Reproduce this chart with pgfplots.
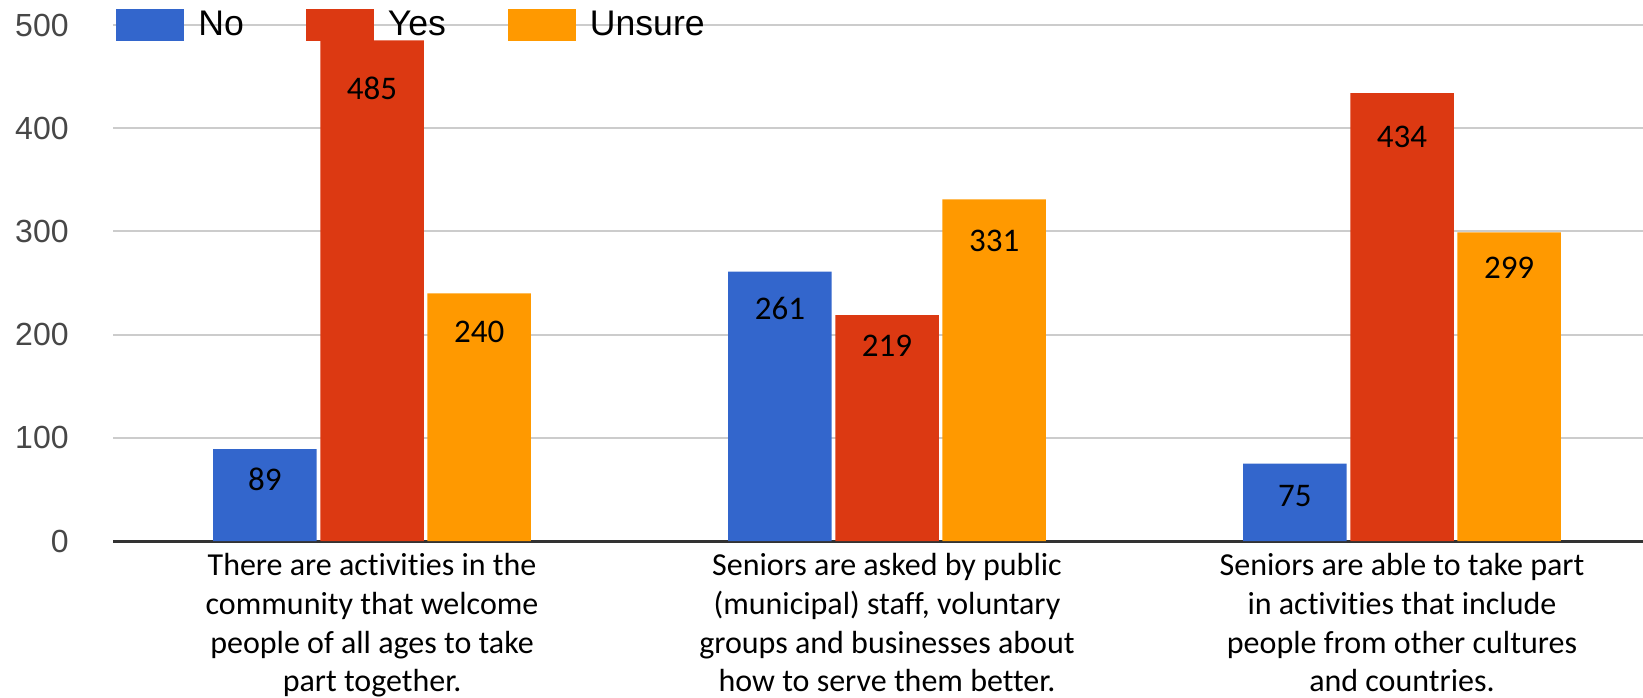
\documentclass[border=0pt]{standalone}
\usepackage{pgfplots}
\usepackage{pgfplotstable}
\pgfplotsset{compat=1.18}
\usepackage{fontspec}
\setmainfont{Carlito}[Ligatures=NoCommon]
\newfontfamily\arialf{Liberation Sans}
\definecolor{cno}{HTML}{3366CC}
\definecolor{cyes}{HTML}{DC3912}
\definecolor{cuns}{HTML}{FF9900}
\pgfplotstableread{
x no yes unsure lno lyes lunsure
0 89 485 240 60 439 203
1 261 219 331 225 189 291
2 75 434 299 44 392 265
}\data
\begin{document}
\begin{tikzpicture}
\begin{axis}[
  scale only axis, width=765pt, height=258pt,
  xmin=-0.503, xmax=2.468, ymin=0, ymax=500,
  axis line style={draw=none},
  xtick={0,1,2}, ytick={100,200,300,400,500},
  major tick length=0pt,
  ymajorgrids, major grid style={draw=black!20, line width=1pt},
  extra y ticks={0},
  extra y tick style={major grid style={draw=black!80, line width=1.5pt}},
  /pgf/number format/assume math mode=true,
  yticklabel style={font=\arialf\fontsize{16}{19}\selectfont, text=black!72, anchor=east, inner sep=0pt, xshift=-22pt},
  xticklabels={{There are activities in the\\community that welcome\\people of all ages to take\\part together.},
               {Seniors are asked by public\\(municipal) staff, voluntary\\groups and businesses about\\how to serve them better.},
               {Seniors are able to take part\\in activities that include\\people from other cultures\\and countries.}},
  xticklabel style={align=center, font=\fontsize{16}{19.35}\selectfont, inner sep=0pt, yshift=-6pt},
  legend columns=3,
  legend style={at={(-0.002,1)}, anchor=west, draw=none, fill=none,
    font=\arialf\fontsize{17.8}{21}\selectfont,
    nodes={inner xsep=7pt, inner ysep=0pt},
    /tikz/every even column/.append style={column sep=24pt}},
  legend image code/.code={\fill[#1] (0pt,-8pt) rectangle (34pt,8pt);},
  nodes near coords style={font=\fontsize{16.5}{19}\selectfont, text=black, anchor=center},
]
\addplot[ybar, bar width=0.201, bar shift=-0.208, fill=cno, draw=none] table[x=x, y=no]{\data};
\addlegendentry{No}
\addplot[ybar, bar width=0.201, bar shift=0, fill=cyes, draw=none] table[x=x, y=yes]{\data};
\addlegendentry{Yes}
\addplot[ybar, bar width=0.201, bar shift=0.208, fill=cuns, draw=none] table[x=x, y=unsure]{\data};
\addlegendentry{Unsure}
\addplot[draw=none, mark=none, forget plot, nodes near coords, point meta=explicit symbolic] table[x expr=\thisrow{x}-0.208, y=lno, meta=no]{\data};
\addplot[draw=none, mark=none, forget plot, nodes near coords, point meta=explicit symbolic] table[x=x, y=lyes, meta=yes]{\data};
\addplot[draw=none, mark=none, forget plot, nodes near coords, point meta=explicit symbolic] table[x expr=\thisrow{x}+0.208, y=lunsure, meta=unsure]{\data};
\end{axis}
\pgfresetboundingbox
\path (-56.5pt,-78pt) rectangle (765pt,270.5pt);
\end{tikzpicture}
\end{document}
